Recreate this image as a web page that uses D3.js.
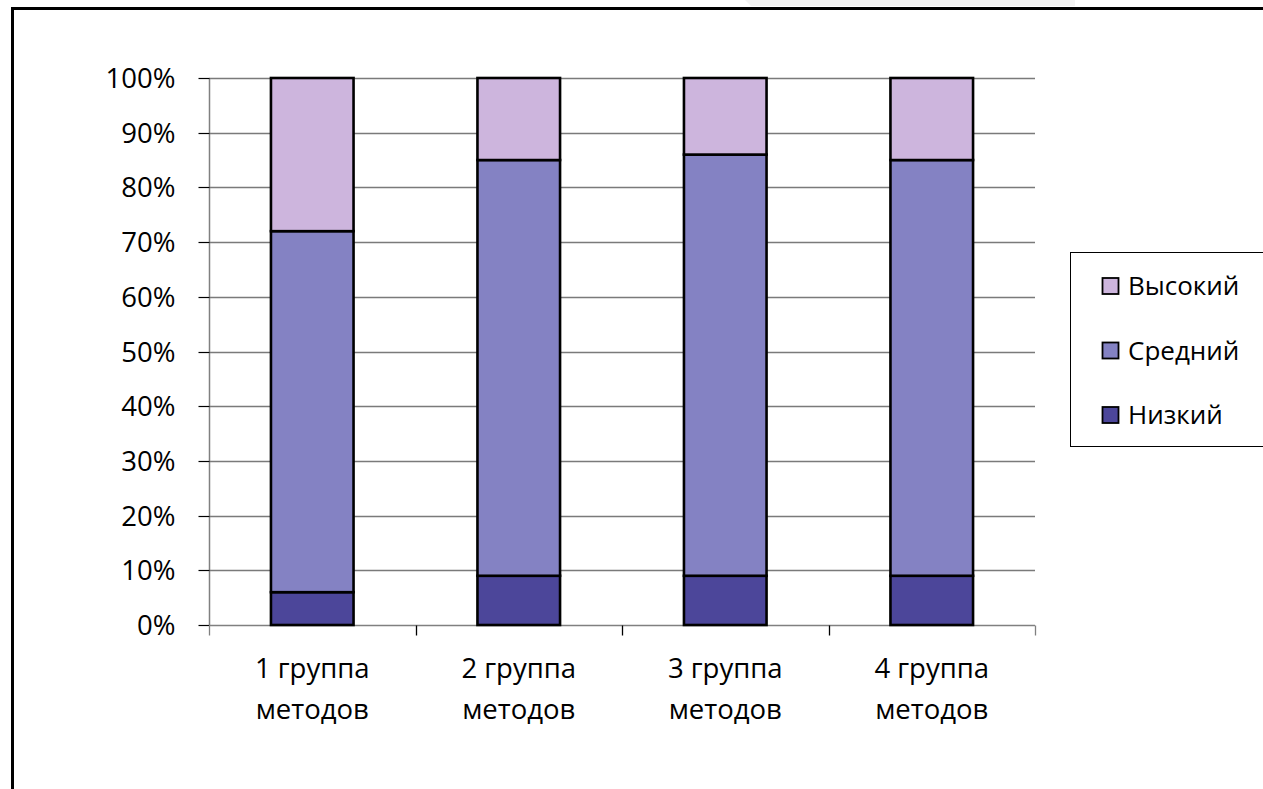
<!DOCTYPE html>
<html><head><meta charset="utf-8">
<script src="https://cdn.jsdelivr.net/npm/d3@7"></script>
<style>html,body{margin:0;padding:0;background:#fff;overflow:hidden}svg{display:block}</style>
</head><body>
<svg id="c" width="1263" height="789"></svg>
<script>
const categories = [["1 группа","методов"],["2 группа","методов"],["3 группа","методов"],["4 группа","методов"]];
const seriesNames = ["Низкий","Средний","Высокий"];
const lowVals = [6, 9, 9, 9];
const midVals = [66, 76, 77, 76];
const highVals = [28, 15, 14, 15];
const colors = ["#4c469a","#8482c3","#cdb5dd"];
const yTicks = [0,10,20,30,40,50,60,70,80,90,100];

const svg = d3.select("#c");
const font = "'Open Sans', sans-serif";

// faint background strip at very top
svg.append("polygon").attr("points","745,0 1075,0 1075,6 751,6").attr("fill","#f3f3f3");

// chart frame (left and top edges visible)
svg.append("line").attr("x1",12.5).attr("x2",12.5).attr("y1",7).attr("y2",789).attr("stroke","#000").attr("stroke-width",3);
svg.append("line").attr("x1",11).attr("x2",1263).attr("y1",8.5).attr("y2",8.5).attr("stroke","#000").attr("stroke-width",3);

const x = d3.scaleBand().domain(d3.range(categories.length)).range([209,1035]).paddingInner(0).paddingOuter(0);
const y = d3.scaleLinear().domain([0,100]).range([625,78]);

// gridlines
svg.append("g").selectAll("line").data(yTicks.filter(d=>d>0)).join("line")
  .attr("x1",209).attr("x2",1035).attr("y1",d=>Math.round(y(d))+0.5).attr("y2",d=>Math.round(y(d))+0.5)
  .attr("stroke","#7a7a7a").attr("stroke-width",1.3);

// y axis
const yAxis = d3.axisLeft(y).tickValues(yTicks).tickFormat(d=>d+"%").tickSize(11).tickPadding(23);
const gy = svg.append("g").attr("transform","translate(209.5,0)").call(yAxis);
gy.select(".domain").attr("stroke","#808080").attr("stroke-width",1.5).attr("d","M0,78V625");
gy.selectAll(".tick line").attr("stroke","#000").attr("stroke-width",1.2);
gy.selectAll(".tick").attr("transform",d=>`translate(0,${Math.round(y(d))+0.5})`);
gy.selectAll("text").attr("font-family",font).attr("font-size",27.5).attr("fill","#000").attr("dy","0.36em");

// x axis
const gx = svg.append("g").attr("transform","translate(0,625.5)");
gx.append("line").attr("x1",209).attr("x2",1035).attr("stroke","#808080").attr("stroke-width",1.5);
const bounds = d3.range(categories.length+1).map(i=> i<categories.length ? x(i) : x(categories.length-1)+x.bandwidth());
gx.selectAll(".ct").data(bounds).join("line").attr("class","ct")
  .attr("x1",d=>Math.round(d)+0.5).attr("x2",d=>Math.round(d)+0.5).attr("y1",0).attr("y2",10)
  .attr("stroke",(d,i)=> i===0||i===categories.length ? "#808080" : "#000").attr("stroke-width",1.3);
gx.selectAll(".cl").data(categories).join("text").attr("class","cl")
  .attr("x",(d,i)=>x(i)+x.bandwidth()/2).attr("y",52)
  .attr("text-anchor","middle").attr("font-family",font).attr("font-size",27.5).attr("fill","#000")
  .selectAll("tspan").data(d=>d).join("tspan")
  .attr("x",function(){return this.parentNode.getAttribute("x");})
  .attr("dy",(d,i)=> i===0?0:41).text(d=>d);

// stacked bars
const rows = categories.map((c,i)=>({i, "Низкий":lowVals[i], "Средний":midVals[i], "Высокий":highVals[i]}));
const stack = d3.stack().keys(seriesNames)(rows);
const bw = x.bandwidth()*0.4;
svg.append("g").selectAll("g").data(stack).join("g").attr("fill",(d,i)=>colors[i])
  .selectAll("rect").data(d=>d).join("rect")
  .attr("x",d=>x(d.data.i)+x.bandwidth()/2-bw/2)
  .attr("width",bw)
  .attr("y",d=>y(d[1]))
  .attr("height",d=>y(d[0])-y(d[1]))
  .attr("stroke","#000").attr("stroke-width",2.6);

// legend
const lg = svg.append("g");
lg.append("rect").attr("x",1070.5).attr("y",252.5).attr("width",200).attr("height",194).attr("fill","#fff").attr("stroke","#000").attr("stroke-width",1);
const legItems = ["Высокий","Средний","Низкий"];
const legColors = [colors[2],colors[1],colors[0]];
const ly = d3.scalePoint().domain(legItems).range([286,415]);
legItems.forEach((n,i)=>{
  lg.append("rect").attr("x",1102.5).attr("y",ly(n)-8).attr("width",16).attr("height",16)
    .attr("fill",legColors[i]).attr("stroke","#000").attr("stroke-width",1.8);
  lg.append("text").attr("x",1128).attr("y",ly(n)).attr("dy","0.36em")
    .attr("font-family",font).attr("font-size",26).attr("fill","#000").text(n);
});
</script>
</body></html>
